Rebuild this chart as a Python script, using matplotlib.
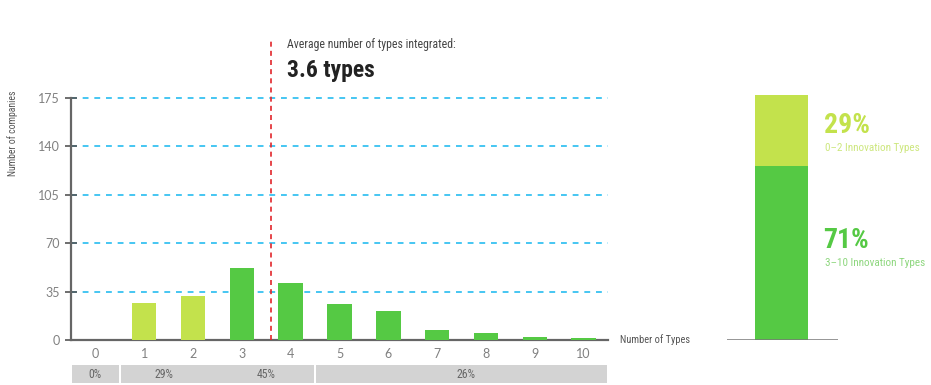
import numpy as np
import matplotlib.pyplot as plt

narrow = ['Roboto Condensed', 'Liberation Sans Narrow', 'DejaVu Sans']
plain = ['Lato', 'DejaVu Sans']

# data
types = [0, 1, 2, 3, 4, 5, 6, 7, 8, 9, 10]
companies = [0, 27, 32, 52, 41, 26, 21, 7, 5, 2.4, 1.7]
avg_types = 3.6
yticks = [0, 35, 70, 105, 140, 175]
band_labels = ['0%', '29%', '45%', '26%']
band_pos = [0, 1.4, 3.5, 7.6]
band_blocks = [(-0.5, 0.5), (0.5, 4.5), (4.5, 10.5)]
share_labels = ['71%', '29%']
share_sub = ['3\u201310 Innovation Types', '0\u20132 Innovation Types']
share_values = [71, 29]

light = '#C3E24C'
green = '#55C944'

fig = plt.figure(figsize=(9.31, 3.85), dpi=100)
ax = fig.add_axes([71/931, 45/385, 537/931, 242/385])

cols = [light if t <= 2 else green for t in types]
ax.bar(types, companies, width=0.5, color=cols, zorder=3)

for y in yticks[1:]:
    ax.axhline(y, color='#45C6F2', lw=1.4, ls=(0, (3, 3)), clip_on=False, zorder=1)

ax.plot([avg_types, avg_types], [0, 218], color='#E2262B', lw=1.2, ls=(0, (3, 2.5)),
        clip_on=False, zorder=4)
ax.text(avg_types + 0.33, 214, 'Average number of types integrated:', family=narrow,
        fontsize=8.5, color='#444444', va='center')
ax.text(avg_types + 0.33, 195, '3.6 types', family=narrow, fontsize=17,
        fontweight='bold', color='#222222', va='center')

ax.set_xlim(-0.5, 10.5)
ax.set_ylim(0, 175)
ax.set_xticks(types)
ax.set_yticks(yticks)
ax.set_xticklabels(types, family=plain)
ax.set_yticklabels(yticks, family=plain)
ax.tick_params(axis='y', direction='inout', length=8, width=1.2, color='#555555',
               labelcolor='#808080', labelsize=9, pad=4)
ax.tick_params(axis='x', length=0, labelcolor='#808080', labelsize=9, pad=6)
for s in ['top', 'right']:
    ax.spines[s].set_visible(False)
for s in ['left', 'bottom']:
    ax.spines[s].set_color('#666666')
    ax.spines[s].set_linewidth(1.6)
ax.set_ylabel('Number of companies', family=narrow, fontsize=7, color='#555555')
ax.yaxis.set_label_coords(-0.098, 0.855)
ax.text(10.75, 0, 'Number of Types', family=narrow, fontsize=7.5, color='#555555', va='center')

# bottom band
bx = fig.add_axes([71/931, 2/385, 537/931, 18/385])
for a, b in band_blocks:
    bx.barh(0, b - a - 0.05, left=a + 0.025, height=1, color='#D3D3D3')
for p, l in zip(band_pos, band_labels):
    bx.text(p, 0, l, ha='center', va='center', fontsize=8.5, color='#666666', family=narrow)
bx.set_xlim(-0.5, 10.5)
bx.set_ylim(-0.5, 0.5)
bx.axis('off')

# right stacked bar
rx = fig.add_axes([727/931, 45/385, 111/931, 245/385])
rx.bar(0.49, share_values[0], width=0.48, color=green)
rx.bar(0.49, share_values[1], bottom=share_values[0], width=0.48, color=light)
rx.axhline(0, color='#777777', lw=1.8)
rx.set_xlim(0, 1)
rx.set_ylim(0, 100)
rx.axis('off')
rx.text(0.87, 40.5, share_labels[0], color=green, fontsize=20, fontweight='bold',
        family=narrow, va='center', clip_on=False)
rx.text(0.88, 31.5, share_sub[0], color='#8ED77F', fontsize=8, family=narrow,
        va='center', clip_on=False)
rx.text(0.87, 87.5, share_labels[1], color=light, fontsize=20, fontweight='bold',
        family=narrow, va='center', clip_on=False)
rx.text(0.88, 78.5, share_sub[1], color='#CDE77E', fontsize=8, family=narrow,
        va='center', clip_on=False)

plt.savefig('out.png', dpi=100)
